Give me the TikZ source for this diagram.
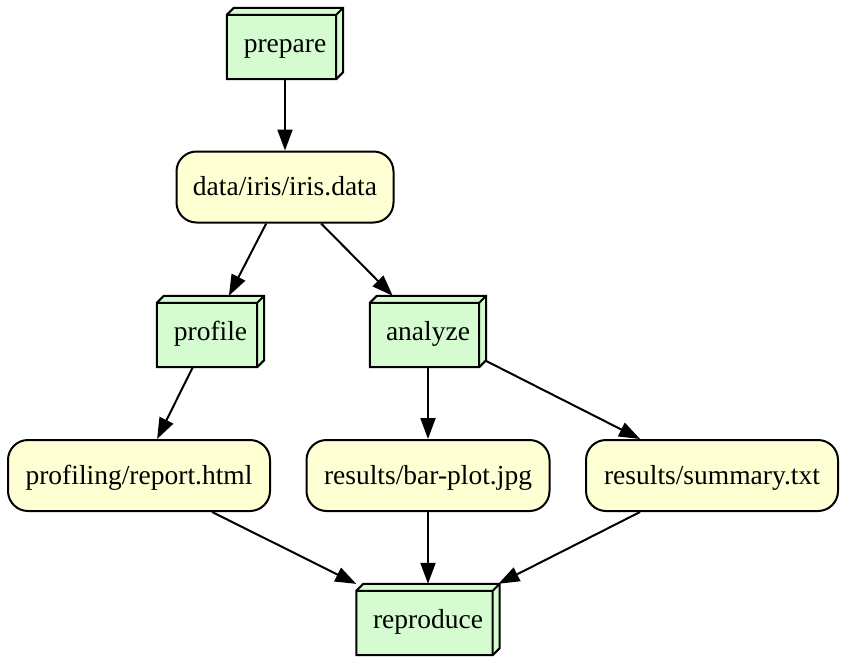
\documentclass[tikz,border=0pt]{standalone}
\usepackage{fontspec}
\setmainfont{Liberation Serif}
\usetikzlibrary{arrows.meta,calc}
\definecolor{stagegreen}{RGB}{212,252,208}
\definecolor{fileyellow}{RGB}{255,255,212}
\tikzset{
  labeltext/.style={font=\fontsize{27.5}{30}\selectfont, text height=24pt, text depth=6.5pt},
  cubebox/.style={minimum height=71pt, inner sep=0pt, labeltext},
  filebox/.style={draw, fill=fileyellow, rounded corners=20pt, minimum height=71pt, inner sep=0pt, line width=2pt, labeltext},
  cubeline/.style={draw, fill=stagegreen, line width=2pt, line join=miter},
  edge/.style={line width=2pt, -{Triangle[length=21pt,width=15pt]}},
}
\newcommand\drawcube[1]{%
  \path[cubeline] ($(#1.north west)+(0,7)$) -- ($(#1.north west)+(7,0)$) -- (#1.north east) -- ($(#1.south east)+(0,-7)$) -- ($(#1.south east)+(-7,0)$) -- (#1.south west) -- cycle;
  \draw[line width=2pt, line join=miter] ($(#1.north west)+(0,7)$) -- ($(#1.north east)+(-7,7)$) -- ($(#1.south east)+(-7,0)$)
    ($(#1.north east)+(-7,7)$) -- (#1.north east);
}
\begin{document}
\begin{tikzpicture}[x=1pt,y=-1pt]
\useasboundingbox (0,0) rectangle (847,664);
% stage nodes (outer box of the 3d shape)
\node[cubebox, minimum width=116pt] (prepare) at (285,43.5) {};
\node[cubebox, minimum width=107pt] (profile) at (210.5,331.5) {};
\node[cubebox, minimum width=116pt] (analyze) at (428,331.5) {};
\node[cubebox, minimum width=143pt] (reproduce) at (428,619.5) {};
\drawcube{prepare}
\drawcube{profile}
\drawcube{analyze}
\drawcube{reproduce}
\node[cubebox] at (prepare) {prepare};
\node[cubebox] at (profile) {profile};
\node[cubebox] at (analyze) {analyze};
\node[cubebox] at (reproduce) {reproduce};
% file nodes
\node[filebox, minimum width=217pt] (iris) at (285,187) {data/iris/iris.data};
\node[filebox, minimum width=262pt] (report) at (139,475.5) {profiling/report.html};
\node[filebox, minimum width=243pt] (barplot) at (428,475.5) {results/bar-plot.jpg};
\node[filebox, minimum width=252pt] (summary) at (712,475.5) {results/summary.txt};
% edges
\draw[edge] (prepare) -- (iris);
\draw[edge] (iris) -- (profile);
\draw[edge] (iris) -- (analyze);
\draw[edge] (profile) -- (report);
\draw[edge] (analyze) -- (barplot);
\draw[edge] (analyze) -- (summary);
\draw[edge] (report) -- (reproduce);
\draw[edge] (barplot) -- (reproduce);
\draw[edge] (summary) -- (reproduce);
\end{tikzpicture}
\end{document}
